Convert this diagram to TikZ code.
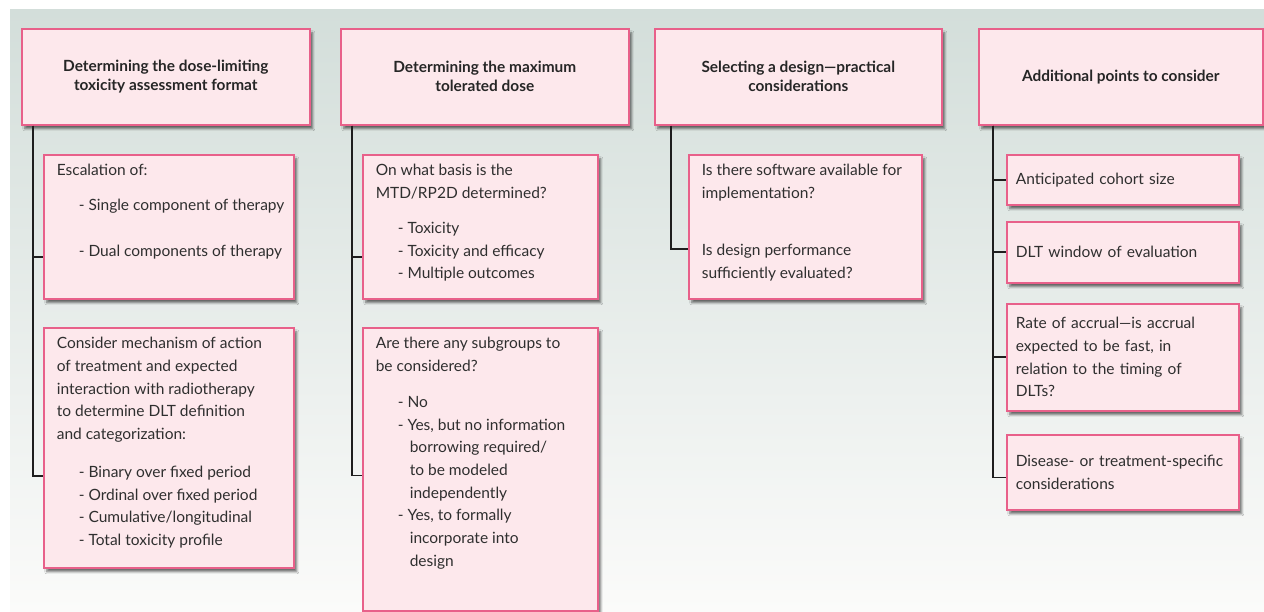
\documentclass[tikz,border=0pt]{standalone}
\usepackage{fontspec}
\setmainfont{Lato}
\usetikzlibrary{positioning, calc, shadows.blur}
\definecolor{panelgrey}{HTML}{D3DEDA}
\definecolor{panelmid}{HTML}{DFE6E3}
\definecolor{panelfade}{HTML}{FBFBFA}
\definecolor{edgepink}{HTML}{E8608A}
\definecolor{cardpink}{HTML}{FDE8EC}
\definecolor{trunkgrey}{HTML}{1E1E1E}
\definecolor{inkgrey}{HTML}{2F2F2F}

\tikzset{
  card/.style={draw=edgepink, fill=cardpink, line width=1.6pt, anchor=north west,
    inner xsep=6pt, inner ysep=5pt, text=inkgrey,
    blur shadow={shadow xshift=3pt, shadow yshift=-4pt, shadow blur steps=8, shadow opacity=55},
    font=\fontsize{15.5}{22.7}\selectfont},
  headcard/.style={card, align=center, inner xsep=4pt, minimum height=96pt,
    text=black!85, font=\bfseries\fontsize{15.4}{19}\selectfont},
  sidecard/.style={card, align=left, text width=214pt, inner xsep=9pt, minimum width=232pt},
  trunk/.style={draw=trunkgrey, line width=1.6pt},
}
% top-aligned text block of fixed size
\newcommand{\cardtxt}[3]{\parbox[c][#2][t]{#1}{\raggedright\leftskip=7pt\strut #3}}

\begin{document}
\begin{tikzpicture}[x=1pt, y=-1pt]
  \useasboundingbox (0,0) rectangle (1264,612);
  % backdrop
  \shade[top color=panelgrey, middle color=panelmid, bottom color=panelfade] (10,10) rectangle (1264,612);

  % column headers
  \node[headcard, minimum width=288pt] (hdlt) at (21,28) {Determining the dose-limiting\\toxicity assessment format};
  \node[headcard, minimum width=288pt] (hmtd) at (340,28) {Determining the maximum\\tolerated dose};
  \node[headcard, minimum width=287pt] (hsel) at (654,28) {Selecting a design—practical\\considerations};
  \node[headcard, minimum width=284pt] (hadd) at (978,28) {Additional points to consider};

  % column 1
  \node[card] (esc) at (43,154) {\cardtxt{238pt}{134pt}{Escalation of:\\[12.3pt]
    \hspace*{22pt}- Single component of therapy\\[23.3pt]
    \hspace*{22pt}- Dual components of therapy}};
  \node[card] (mech) at (43,327) {\cardtxt{238pt}{230pt}{Consider mechanism of action\\
    of treatment and expected\\interaction with radiotherapy\\
    to determine DLT definition\\and categorization:\\[15.3pt]
    \hspace*{22pt}- Binary over fixed period\\
    \hspace*{22pt}- Ordinal over fixed period\\
    \hspace*{22pt}- Cumulative/longitudinal\\
    \hspace*{22pt}- Total toxicity profile}};

  % column 2
  \node[card] (basis) at (362,154) {\cardtxt{223pt}{134pt}{On what basis is the\\MTD/RP2D determined?\\[12.3pt]
    \hspace*{22pt}- Toxicity\\
    \hspace*{22pt}- Toxicity and efficacy\\
    \hspace*{22pt}- Multiple outcomes}};
  \node[card] (subgrp) at (362,327) {\cardtxt{223pt}{273pt}{Are there any subgroups to\\be considered?\\[13.3pt]
    \hspace*{22pt}- No\\
    \hspace*{22pt}- Yes, but no information\\
    \hspace*{34pt}borrowing required/\\
    \hspace*{34pt}to be modeled\\
    \hspace*{34pt}independently\\
    \hspace*{22pt}- Yes, to formally\\
    \hspace*{34pt}incorporate into\\
    \hspace*{34pt}design}};

  % column 3
  \node[card] (soft) at (688,154) {\cardtxt{221pt}{134pt}{Is there software available for\\implementation?\\[34.3pt]
    Is design performance\\sufficiently evaluated?}};

  % column 4
  \node[sidecard, minimum height=50pt] (cohort) at (1006,154) {Anticipated cohort size};
  \node[sidecard, minimum height=61pt] (window) at (1006,221) {DLT window of evaluation};
  \node[sidecard, minimum height=107pt] (accrual) at (1006,303) {Rate of accrual—is accrual\\expected to be fast, in\\relation to the timing of\\DLTs?};
  \node[sidecard, minimum height=75pt] (specific) at (1006,434) {Disease- or treatment-specific\\considerations};

  % trunks
  \draw[trunk] ($(hdlt.south west)+(12,0)$) |- ([yshift=-30pt]esc.west);
  \draw[trunk] ($(hdlt.south west)+(12,0)$) |- ([yshift=-28pt]mech.west);
  \draw[trunk] ($(hmtd.south west)+(12,0)$) |- ([yshift=-30pt]basis.west);
  \draw[trunk] ($(hmtd.south west)+(12,0)$) |- ([yshift=-6pt]subgrp.west);
  \draw[trunk] ($(hsel.south west)+(17,0)$) |- ([yshift=-22pt]soft.west);
  \draw[trunk] ($(hadd.south west)+(15,0)$) |- (cohort.west);
  \draw[trunk] ($(hadd.south west)+(15,0)$) |- (window.west);
  \draw[trunk] ($(hadd.south west)+(15,0)$) |- (accrual.west);
  \draw[trunk] ($(hadd.south west)+(15,0)$) |- ([yshift=-5pt]specific.west);
\end{tikzpicture}
\end{document}
